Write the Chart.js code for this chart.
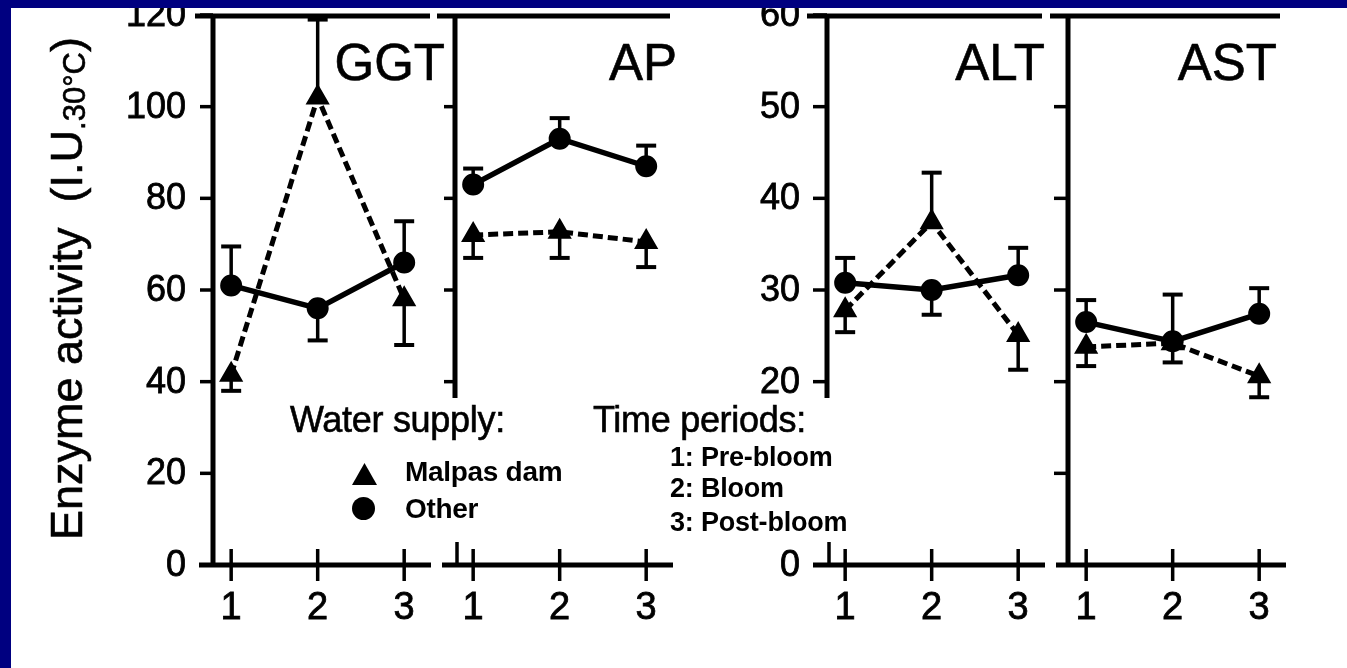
<!DOCTYPE html>
<html>
<head>
<meta charset="utf-8">
<script src="https://cdn.jsdelivr.net/npm/chart.js@4.4.1/dist/chart.umd.min.js"></script>
<style>
  body { margin: 0; width: 1347px; height: 668px; overflow: hidden; background: #fff;
         font-family: "Liberation Sans", Arial, sans-serif; color: #000; }
  canvas { position: absolute; left: 0; top: 0; }
  .band { position: absolute; background: #000080; z-index: 5; }
  .txt { position: absolute; line-height: 1; white-space: nowrap; z-index: 3; -webkit-text-stroke: 0.6px #000; }
  .title { font-size: 51px; top: 37px; }
  .head { font-size: 36px; top: 402px; letter-spacing: -0.3px; }
  .item { font-size: 28px; font-weight: bold; left: 405px; letter-spacing: -0.3px; -webkit-text-stroke: 0; }
  .per { font-size: 27px; font-weight: bold; left: 670px; letter-spacing: -0.2px; -webkit-text-stroke: 0; }
  #ytitle { position: absolute; left: 0; top: 0; font-size: 45px; line-height: 1; white-space: nowrap;
            -webkit-text-stroke: 0.6px #000;
            transform-origin: 0 0; transform: translate(44px, 540px) rotate(-90deg); }
  #ytitle sub { font-size: 31px; vertical-align: baseline; position: relative; top: 3px; }
</style>
</head>
<body>
<canvas id="ggt" width="1347" height="668"></canvas>
<canvas id="ap" width="1347" height="668"></canvas>
<canvas id="alt" width="1347" height="668"></canvas>
<canvas id="ast" width="1347" height="668"></canvas>

<div class="band" style="left:0;top:0;width:1347px;height:8px"></div>
<div class="band" style="left:0;top:0;width:11px;height:668px"></div>

<div id="ytitle">Enzyme activity&nbsp;&nbsp;(I.U<sub>.30°C</sub>)</div>

<div class="txt title" style="right:902px">GGT</div>
<div class="txt title" style="right:670px">AP</div>
<div class="txt title" style="right:302px">ALT</div>
<div class="txt title" style="right:70px">AST</div>

<div class="txt head" style="left:290px">Water supply:</div>
<div style="position:absolute;left:352px;top:463px;width:25px;height:22px;background:#000;clip-path:polygon(50% 0,100% 100%,0 100%)"></div>
<div class="txt item" style="top:458px">Malpas dam</div>
<div style="position:absolute;left:352px;top:497px;width:23px;height:23px;background:#000;border-radius:50%"></div>
<div class="txt item" style="top:495px">Other</div>

<div class="txt head" style="left:593px">Time periods:</div>
<div class="txt per" style="top:444px">1: Pre-bloom</div>
<div class="txt per" style="top:475px">2: Bloom</div>
<div class="txt per" style="top:509px">3: Post-bloom</div>

<script>
// time periods on the x axis
const periods = [1, 2, 3];

// GGT (I.U.) - means and the end of the drawn error bar
const ggtOther = [61, 56, 66];
const ggtOtherErr = [69.5, 49, 75];
const ggtMalpas = [41.5, 102, 58];
const ggtMalpasErr = [38, 119, 48];

// AP
const apOther = [83, 93, 87];
const apOtherErr = [86.5, 97.5, 91.5];
const apMalpas = [72, 72.7, 70.5];
const apMalpasErr = [67, 67, 65];

// ALT
const altOther = [30.8, 30, 31.6];
const altOtherErr = [33.5, 27.3, 34.6];
const altMalpas = [27.8, 37.4, 25.1];
const altMalpasErr = [25.4, 42.8, 21.3];

// AST
const astOther = [26.5, 24.4, 27.4];
const astOtherErr = [28.9, 29.5, 30.2];
const astMalpas = [23.8, 24.2, 20.6];
const astMalpasErr = [21.7, 22.1, 18.3];

// y ticks
const ggtTicks = [0, 20, 40, 60, 80, 100, 120];
const apTicks = [40, 60, 80, 100];
const altTicks = [0, 20, 30, 40, 50, 60];
const astTicks = [10, 20, 30, 40, 50];

const FONT = '"Liberation Sans", Arial, sans-serif';

function seg(ctx, x1, y1, x2, y2, w) {
  ctx.lineWidth = w;
  ctx.beginPath();
  ctx.moveTo(x1, y1);
  ctx.lineTo(x2, y2);
  ctx.stroke();
}

function label(ctx, s, x, y) {
  ctx.fillText(s, x, y);
  ctx.lineWidth = 0.8;
  ctx.strokeText(s, x, y);
}

// error bars: one-sided, from the point to the value in errEnd
const errorBars = {
  id: 'errorBars',
  beforeDatasetsDraw(chart) {
    const ctx = chart.ctx, x = chart.scales.x, y = chart.scales.y;
    ctx.save();
    ctx.strokeStyle = '#000';
    chart.data.datasets.forEach(ds => {
      ds.data.forEach((p, i) => {
        const px = x.getPixelForValue(p.x);
        const py = y.getPixelForValue(p.y);
        const pe = y.getPixelForValue(ds.errEnd[i]);
        seg(ctx, px, py, px, pe, 3.5);
        seg(ctx, px - 10, pe, px + 10, pe, 4);
      });
    });
    ctx.restore();
  }
};

// axis lines, ticks, labels and the frame top
const axisFrame = {
  id: 'axisFrame',
  afterDraw(chart, args, o) {
    const ctx = chart.ctx, a = chart.chartArea, x = chart.scales.x, y = chart.scales.y;
    ctx.save();
    ctx.strokeStyle = '#000';
    ctx.fillStyle = '#000';
    // top rule
    seg(ctx, a.left - o.topLead, a.top + 1, a.right - o.topTrim, a.top + 1, 5);
    // y axis
    if (o.gap) {
      seg(ctx, a.left, a.top, a.left, a.bottom - o.gap[1], 5);
      seg(ctx, a.left + 2, a.bottom - o.gap[0], a.left + 2, a.bottom, 3.5);
    } else {
      seg(ctx, a.left, a.top, a.left, a.bottom + 1, 5);
    }
    ctx.font = '36px ' + FONT;
    ctx.textAlign = 'right';
    ctx.textBaseline = 'middle';
    o.ticks.forEach(v => {
      const py = y.getPixelForValue(v);
      seg(ctx, a.left - o.tickLen, py, a.left, py, 3.5);
      if (o.labels) label(ctx, String(v), a.left - 27, py + 1);
    });
    // x axis
    seg(ctx, a.left - o.xLead, a.bottom, a.right, a.bottom, 5);
    ctx.font = '38px ' + FONT;
    ctx.textAlign = 'center';
    periods.forEach(p => {
      const px = x.getPixelForValue(p);
      seg(ctx, px, a.bottom - 16, px, a.bottom + 16, 3.5);
      label(ctx, String(p), px, a.bottom + 44);
    });
    ctx.restore();
  }
};

function makePanel(id, other, otherErr, malpas, malpasErr, yMax, pad, frame) {
  const pts = vals => vals.map((v, i) => ({ x: periods[i], y: v }));
  return new Chart(document.getElementById(id), {
    type: 'line',
    data: {
      datasets: [
        {
          label: 'Other',
          data: pts(other),
          errEnd: otherErr,
          borderColor: '#000',
          backgroundColor: '#000',
          borderWidth: 5.5,
          pointStyle: 'circle',
          pointRadius: 10,
          pointBorderWidth: 2,
          tension: 0
        },
        {
          label: 'Malpas dam',
          data: pts(malpas),
          errEnd: malpasErr,
          borderColor: '#000',
          backgroundColor: '#000',
          borderWidth: 5,
          borderDash: [10, 5],
          pointStyle: 'triangle',
          pointRadius: 12,
          pointBorderWidth: 2,
          tension: 0
        }
      ]
    },
    options: {
      responsive: false,
      animation: false,
      layout: { padding: pad },
      scales: {
        x: { type: 'linear', min: 0.79, max: 3.31, display: false },
        y: { type: 'linear', min: 0, max: yMax, display: false }
      },
      plugins: {
        legend: { display: false },
        tooltip: { enabled: false },
        axisFrame: frame
      }
    },
    plugins: [errorBars, axisFrame]
  });
}

makePanel('ggt', ggtOther, ggtOtherErr, ggtMalpas, ggtMalpasErr, 120,
  { left: 213, right: 916, top: 15, bottom: 103 },
  { ticks: ggtTicks, labels: true, tickLen: 13, topLead: 18, topTrim: 1, xLead: 14, gap: null });

makePanel('ap', apOther, apOtherErr, apMalpas, apMalpasErr, 120,
  { left: 455, right: 674, top: 15, bottom: 103 },
  { ticks: apTicks, labels: false, tickLen: 11, topLead: 18, topTrim: 3, xLead: 13, gap: [23, 167] });

makePanel('alt', altOther, altOtherErr, altMalpas, altMalpasErr, 60,
  { left: 827, right: 302, top: 15, bottom: 103 },
  { ticks: altTicks, labels: true, tickLen: 14, topLead: 20, topTrim: 3, xLead: 14, gap: [23, 167] });

makePanel('ast', astOther, astOtherErr, astMalpas, astMalpasErr, 60,
  { left: 1068, right: 61, top: 15, bottom: 103 },
  { ticks: astTicks, labels: false, tickLen: 14, topLead: 18, topTrim: 6, xLead: 12, gap: null });
</script>
</body>
</html>
